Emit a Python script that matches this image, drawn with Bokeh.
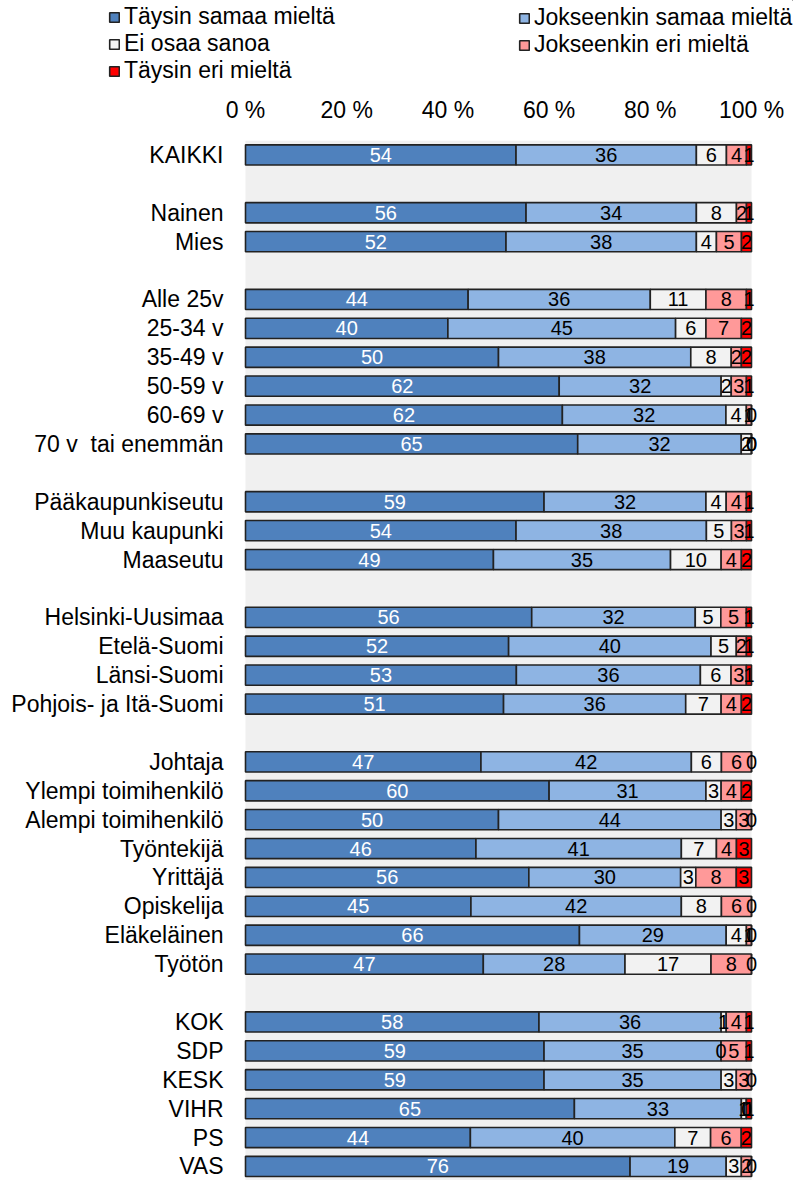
from bokeh.plotting import figure
from bokeh.layouts import column
from bokeh.models import (Range1d, FixedTicker, ColumnDataSource, LabelSet,
                          Legend, LegendItem, BoxAnnotation)
from bokeh.core.properties import value
from bokeh.embed import file_html
from bokeh.resources import INLINE

# ---------------- data ----------------
series_names = ["Täysin samaa mieltä", "Jokseenkin samaa mieltä", "Ei osaa sanoa",
                "Jokseenkin eri mieltä", "Täysin eri mieltä"]

categories = ["KAIKKI",
              "Nainen", "Mies",
              "Alle 25v", "25-34 v", "35-49 v", "50-59 v", "60-69 v", "70 v\u00a0 tai enemmän",
              "Pääkaupunkiseutu", "Muu kaupunki", "Maaseutu",
              "Helsinki-Uusimaa", "Etelä-Suomi", "Länsi-Suomi", "Pohjois- ja Itä-Suomi",
              "Johtaja", "Ylempi toimihenkilö", "Alempi toimihenkilö", "Työntekijä",
              "Yrittäjä", "Opiskelija", "Eläkeläinen", "Työtön",
              "KOK", "SDP", "KESK", "VIHR", "PS", "VAS"]
group_sizes = [1, 2, 6, 3, 4, 8, 6]

taysin_samaa = [54, 56, 52, 44, 40, 50, 62, 62, 65, 59, 54, 49, 56, 52, 53, 51,
                47, 60, 50, 46, 56, 45, 66, 47, 58, 59, 59, 65, 44, 76]
jokseenkin_samaa = [36, 34, 38, 36, 45, 38, 32, 32, 32, 32, 38, 35, 32, 40, 36, 36,
                    42, 31, 44, 41, 30, 42, 29, 28, 36, 35, 35, 33, 40, 19]
ei_osaa = [6, 8, 4, 11, 6, 8, 2, 4, 2, 4, 5, 10, 5, 5, 6, 7,
           6, 3, 3, 7, 3, 8, 4, 17, 1, 0, 3, 1, 7, 3]
jokseenkin_eri = [4, 2, 5, 8, 7, 2, 3, 1, 0, 4, 3, 4, 5, 2, 3, 4,
                  6, 4, 3, 4, 8, 6, 1, 8, 4, 5, 3, 0, 6, 2]
taysin_eri = [1, 1, 2, 1, 2, 2, 1, 0, 0, 1, 1, 2, 1, 1, 1, 2,
              0, 2, 0, 3, 3, 0, 0, 0, 1, 1, 0, 1, 2, 0]

x_ticks = [0, 20, 40, 60, 80, 100]
x_tick_labels = ["0 %", "20 %", "40 %", "60 %", "80 %", "100 %"]

colors = ["#4f81bd", "#8eb4e3", "#f2f2f2", "#ff9999", "#ff0000"]
label_colors = ["white", "black", "black", "black", "black"]

# ---------------- layout ----------------
font = "Liberation Sans"
FIG_W = 793
LEG_H = 84
MAIN_H = 1180 - LEG_H
ZERO_X = 245          # page x of the 0 % position
PX_PER_PCT = 5.06
FRAME_T_PAGE = 140
frame_top = FRAME_T_PAGE - LEG_H
frame_h = MAIN_H - frame_top
pitch = 28.9

slots = []
s = 0
for g in group_sizes:
    for _ in range(g):
        slots.append(s)
        s += 1
    s += 1
y_bottom = -0.5 + frame_h / pitch

p = figure(width=FIG_W, height=MAIN_H, output_backend="svg", toolbar_location=None,
           x_range=Range1d(-ZERO_X / PX_PER_PCT, (FIG_W - ZERO_X) / PX_PER_PCT),
           y_range=Range1d(y_bottom, -0.5),
           x_axis_location="above", y_axis_location=None,
           min_border_left=0, min_border_right=0, min_border_top=frame_top,
           min_border_bottom=0)
p.background_fill_color = "white"
p.border_fill_color = "white"
p.outline_line_color = None
p.grid.visible = False
p.add_layout(BoxAnnotation(left=0, right=100, fill_color="#f0f0f0", fill_alpha=1,
                           line_color=None, level="underlay"))

xa = p.xaxis[0]
xa.ticker = FixedTicker(ticks=x_ticks)
xa.major_label_overrides = {t: l for t, l in zip(x_ticks, x_tick_labels)}
xa.axis_line_color = None
xa.major_tick_line_color = None
xa.minor_tick_line_color = None
xa.major_tick_out = 0
xa.major_tick_in = 0
xa.major_label_standoff = 18
xa.major_label_text_font = font
xa.major_label_text_font_size = "23px"
xa.major_label_text_color = "black"

# category labels (left of the bars)
cat_src = ColumnDataSource(dict(x=[0] * len(categories), y=slots, t=categories))
p.add_layout(LabelSet(x="x", y="y", text="t", source=cat_src, x_offset=-22,
                      text_align="right", text_baseline="middle", text_color="black",
                      text_font=value(font), text_font_size="23px"))

series = [taysin_samaa, jokseenkin_samaa, ei_osaa, jokseenkin_eri, taysin_eri]
totals = [sum(v[i] for v in series) for i in range(len(categories))]

lx, ly, lt, lc = [], [], [], []
cum = [0.0] * len(categories)
for k, vals in enumerate(series):
    left = cum[:]
    right = [left[i] + vals[i] * 100.0 / totals[i] for i in range(len(vals))]
    src = ColumnDataSource(dict(y=slots, left=left, right=right))
    p.hbar(y="y", left="left", right="right", height=0.7, source=src,
           fill_color=colors[k], line_color="#222222", line_width=1.6)
    for i in range(len(vals)):
        lx.append((left[i] + right[i]) / 2)
        ly.append(slots[i])
        lt.append(str(vals[i]))
        lc.append(label_colors[k])
    cum = right

lab_src = ColumnDataSource(dict(x=lx, y=ly, t=lt, c=lc))
p.add_layout(LabelSet(x="x", y="y", text="t", source=lab_src, text_align="center",
                      text_baseline="middle", text_color="c", text_font=value(font),
                      text_font_size="20px"))

# ---------------- legend strip on top ----------------
lf = figure(width=FIG_W, height=LEG_H, output_backend="svg", toolbar_location=None,
            x_range=Range1d(0, 1), y_range=Range1d(0, 1),
            x_axis_location=None, y_axis_location=None,
            min_border_left=0, min_border_right=0, min_border_top=0, min_border_bottom=0)
lf.outline_line_color = None
lf.grid.visible = False
lf.background_fill_color = "white"
lf.border_fill_color = "white"

leg_renderers = []
for k in range(len(series_names)):
    # one bar placed far outside the visible range: only its legend swatch is seen
    src = ColumnDataSource(dict(y=[50], left=[50], right=[51]))
    leg_renderers.append(lf.hbar(y="y", left="left", right="right", height=1, source=src,
                                 fill_color=colors[k], line_color="#222222",
                                 line_width=1.6))

ROW_H = 26
LEG_TOP = 6

def make_legend(idx, x):
    h = len(idx) * ROW_H
    items = [LegendItem(label=series_names[i], renderers=[leg_renderers[i]]) for i in idx]
    lg = Legend(items=items, location=(x, LEG_H - LEG_TOP - h), orientation="vertical",
                padding=0, margin=0, border_line_color=None, background_fill_alpha=0,
                glyph_width=12, glyph_height=12, label_standoff=4,
                label_text_font=font, label_text_font_size="23px",
                label_height=ROW_H, spacing=0, label_text_color="black")
    lf.add_layout(lg)

make_legend([0, 2, 4], 108)
make_legend([1, 3], 518)

layout = column(lf, p, spacing=0)
open("out.html", "w").write(file_html(layout, INLINE))
